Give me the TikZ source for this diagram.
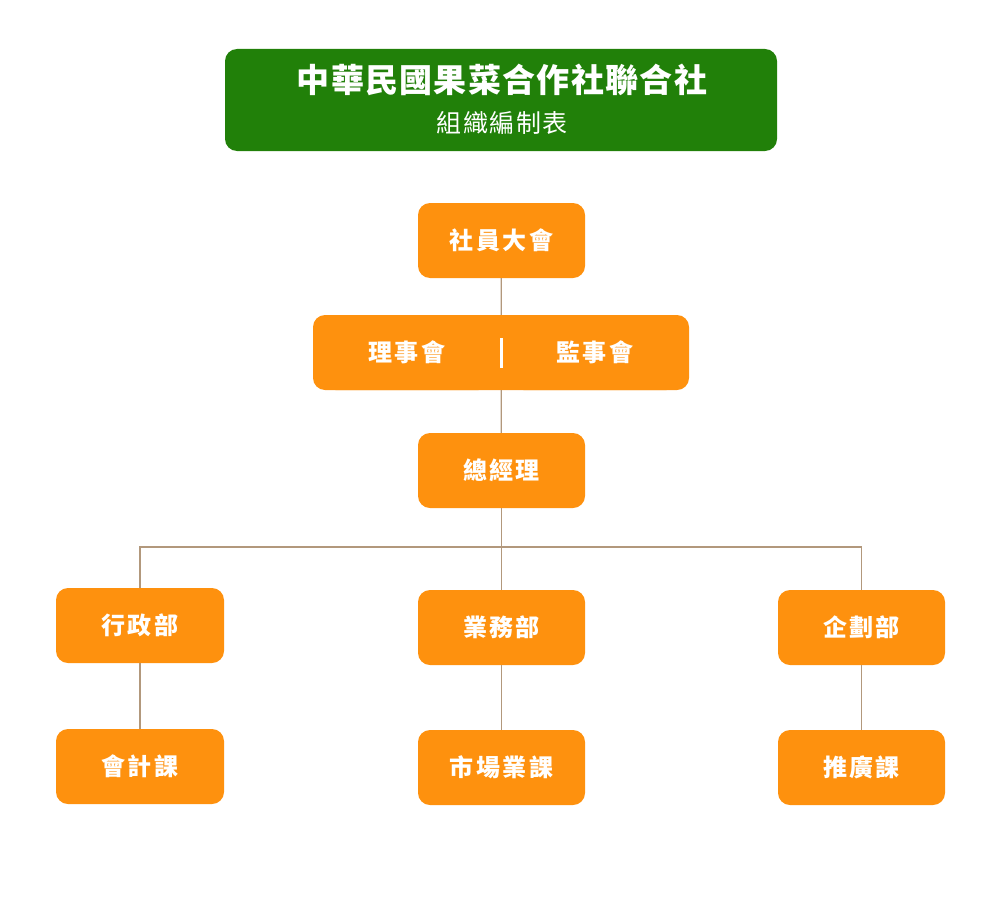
\documentclass[tikz,border=0pt]{standalone}
\usepackage{fontspec}
\setmainfont{Noto Sans CJK TC}
\usetikzlibrary{positioning}

\definecolor{titlegreen}{RGB}{33,128,9}
\definecolor{boxorange}{RGB}{254,145,14}
\definecolor{linetan}{RGB}{178,152,124}

\begin{document}
\begin{tikzpicture}[x=1pt, y=-1pt,
    unit/.style={fill=boxorange, rounded corners=12pt, minimum width=167pt, minimum height=75pt, inner sep=0pt, text=white,
        font=\fontsize{24}{28}\selectfont\bfseries\addfontfeature{LetterSpace=10}},
    link/.style={draw=linetan, line width=1.3pt}]
    \useasboundingbox (0, 0) rectangle (1000, 899);

    % title
    \node[fill=titlegreen, rounded corners=12pt, minimum width=552pt, minimum height=102pt, inner sep=0pt] (title) at (501, 100) {};
    \node[text=white, font=\fontsize{33}{36}\selectfont\bfseries\addfontfeature{LetterSpace=4}] (titletext) at (502, 80) {中華民國果菜合作社聯合社};
    \node[text=white, font=\fontsize{25}{28}\selectfont\addfontfeature{LetterSpace=6}] (subtitle) at (502, 123) {組織編制表};

    % upper levels
    \node[unit] (assembly) at (501.5, 240.5) {社員大會};
    \node[unit, minimum width=376pt] (board) at (501, 352.5) {};
    \node[unit] (directors) at (407, 352.5) {理事會};
    \node[unit] (supervisors) at (595, 352.5) {監事會};
    \draw[white, line width=3pt] ([yshift=-15pt]board.center) -- ([yshift=15pt]board.center);
    \node[unit] (ceo) at (501.5, 470.5) {總經理};

    % departments
    \node[unit, minimum width=168pt] (admin) at (140, 625.5) {行政部};
    \node[unit] (sales) at (501.5, 627.5) {業務部};
    \node[unit] (plan) at (861.5, 627.5) {企劃部};

    % sections
    \node[unit, minimum width=168pt] (acct) at (140, 766.5) {會計課};
    \node[unit] (market) at (501.5, 767.5) {市場業課};
    \node[unit] (promo) at (861.5, 767.5) {推廣課};

    \coordinate (branch) at (501.5, 547);
    \draw[link] (assembly) -- (board);
    \draw[link] (board) -- (ceo);
    \draw[link] (ceo) -- (sales);
    \draw[link] (branch) -| (admin);
    \draw[link] (branch) -| (plan);
    \draw[link] (admin) -- (acct);
    \draw[link] (sales) -- (market);
    \draw[link] (plan) -- (promo);
\end{tikzpicture}
\end{document}
